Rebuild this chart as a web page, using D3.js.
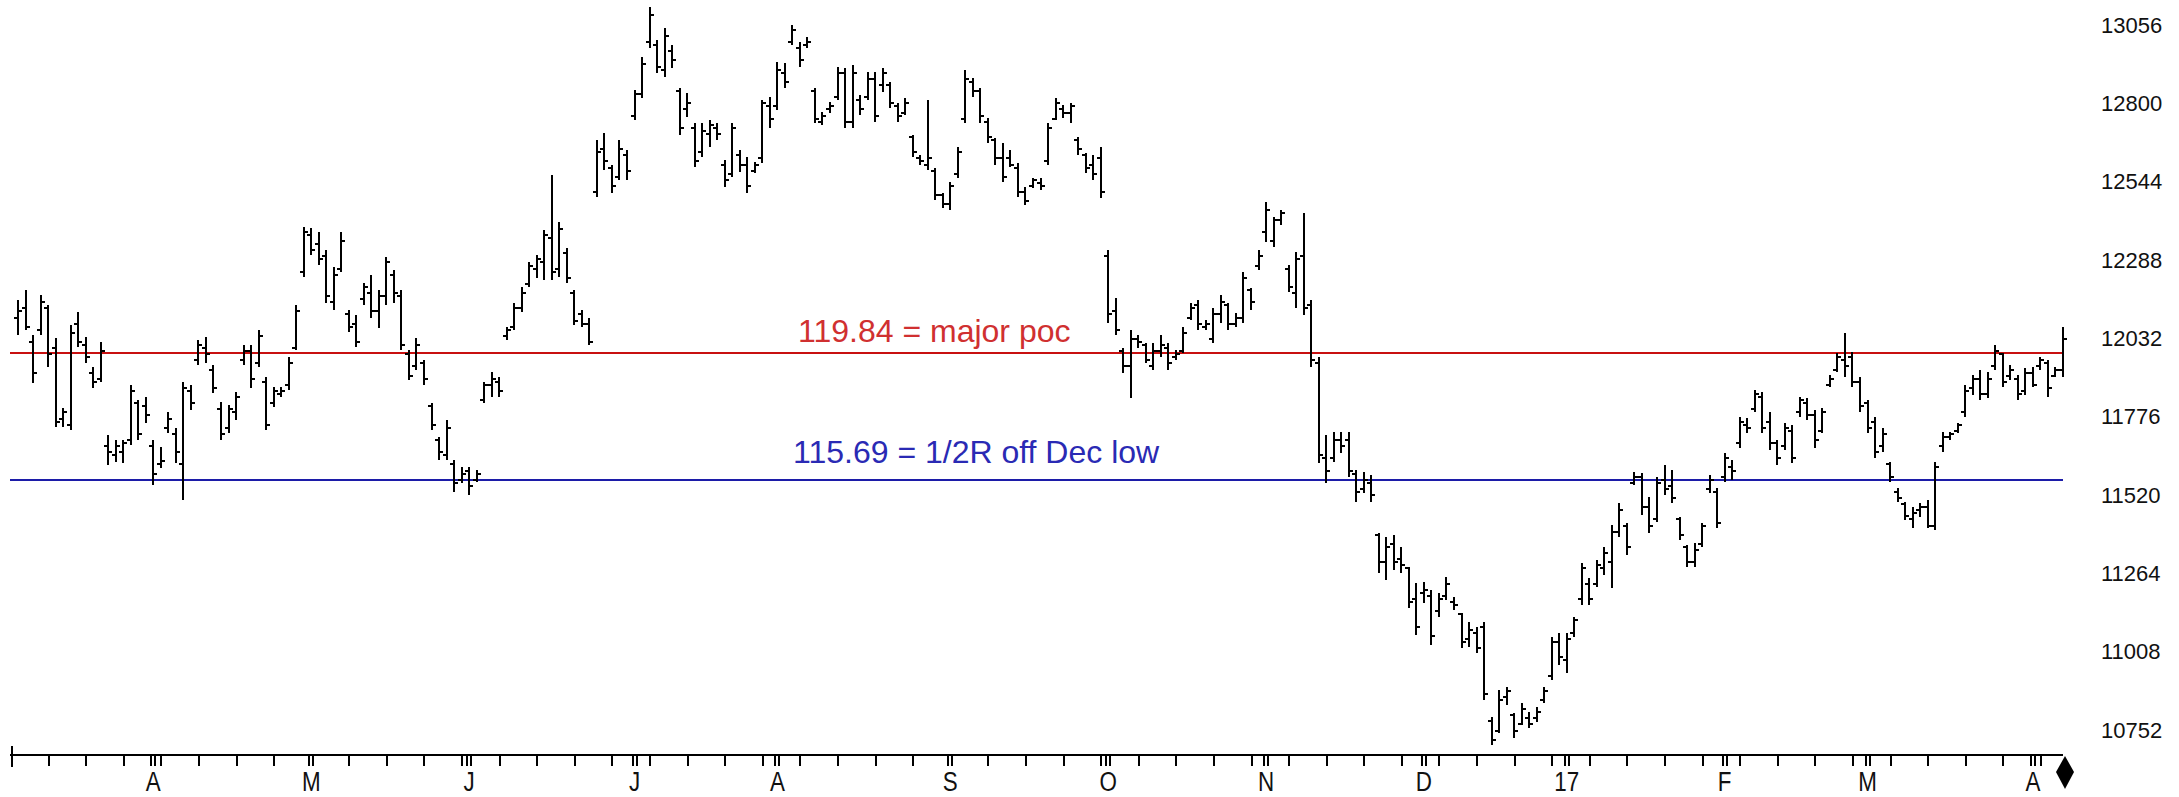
<!DOCTYPE html>
<meta charset="utf-8">
<style>
body { margin: 0; background: #fff; }
svg { display: block; font-family: "Liberation Sans", Arial, sans-serif; }
.bar { stroke: #000; stroke-width: 2px; shape-rendering: crispEdges; }
.xaxis line, .xaxis path { stroke: #000; stroke-width: 2px; shape-rendering: crispEdges; }
.yaxis path { display: none; }
.yaxis text { font-size: 22px; fill: #111; }
</style>
<body>
<script src="https://d3js.org/d3.v7.min.js"></script>
<script>
// daily bars (Mar 2016 - Apr 2017)
var opens = [
  12100,12130,12020,12060,12130,12000,11770,11750,12080,12010,
  11920,11900,11680,11650,11660,11700,11820,11810,11680,11620,
  11740,11720,11620,11860,11960,12000,11930,11800,11740,11790,
  11960,11990,11950,11890,11820,11850,11880,12000,12250,12370,
  12340,12300,12150,12260,12110,12080,12160,12180,12120,12170,
  12240,12170,11980,11940,11950,11810,11700,11650,11620,11570,
  11600,11570,11830,11880,11890,12040,12070,12130,12210,12260,
  12280,12360,12260,12310,12180,12110,12080,12510,12650,12590,
  12560,12630,12760,12830,13000,12990,12910,12970,12840,12780,
  12720,12640,12700,12720,12600,12570,12630,12600,12580,12620,
  12790,12790,12900,13000,12980,12990,12840,12740,12780,12820,
  12900,12740,12810,12820,12880,12860,12860,12790,12770,12690,
  12620,12600,12580,12500,12470,12570,12750,12870,12840,12740,
  12680,12620,12620,12590,12510,12530,12540,12610,12750,12780,
  12770,12680,12630,12600,12620,12300,12120,11990,11940,12030,
  12010,11940,11990,12000,11970,11990,12100,12140,12070,12030,
  12110,12140,12080,12100,12190,12270,12380,12350,12420,12260,
  12180,12300,12140,11950,11640,11640,11700,11700,11590,11540,
  11560,11390,11300,11360,11310,11280,11180,11200,11190,11140,
  11190,11170,11130,11050,11070,11090,10780,10750,10860,10800,
  10770,10790,10790,10850,10930,11040,10980,11070,11180,11230,
  11230,11280,11300,11400,11420,11560,11580,11480,11440,11570,
  11550,11440,11350,11300,11360,11540,11530,11580,11610,11690,
  11750,11800,11840,11760,11690,11680,11730,11790,11820,11780,
  11730,11880,11930,11960,11970,11890,11820,11760,11680,11620,
  11530,11490,11440,11470,11480,11420,11680,11710,11730,11790,
  11870,11900,11850,11940,11980,11910,11900,11860,11920,11940,
  11950,11910,11930
];
var highs = [
  12158,12190,12043,12174,12141,12033,11805,12076,12118,12037,
  11939,12020,11716,11700,11700,11880,11831,11841,11700,11677,
  11792,11739,11890,11880,12027,12037,11945,11824,11815,11857,
  12010,12010,12060,11906,11873,11873,11971,12141,12396,12393,
  12380,12321,12265,12380,12125,12109,12213,12239,12190,12298,
  12256,12190,11994,12033,11961,11821,11710,11765,11635,11612,
  11612,11602,11890,11922,11906,12069,12148,12200,12282,12305,
  12386,12566,12413,12328,12190,12125,12099,12680,12703,12599,
  12680,12648,12844,12952,13115,13007,13046,12991,12850,12834,
  12736,12736,12746,12736,12615,12736,12648,12625,12609,12811,
  12821,12935,12932,13056,13001,13017,12850,12772,12805,12919,
  12916,12926,12828,12903,12903,12916,12870,12801,12818,12697,
  12631,12811,12589,12507,12543,12658,12909,12883,12850,12752,
  12687,12671,12648,12605,12527,12556,12556,12736,12818,12795,
  12801,12690,12638,12631,12658,12321,12164,12001,12060,12043,
  12017,12017,12043,12017,11994,12069,12148,12158,12092,12131,
  12174,12148,12115,12249,12197,12321,12478,12429,12452,12272,
  12315,12442,12158,11971,11716,11726,11726,11726,11602,11595,
  11586,11396,11383,11390,11350,11285,11233,11236,11210,11200,
  11252,11187,11135,11105,11089,11105,10795,10883,10893,10808,
  10841,10811,10828,10893,11056,11069,11069,11122,11298,11249,
  11308,11350,11422,11494,11429,11595,11592,11514,11579,11618,
  11602,11448,11357,11363,11429,11586,11543,11658,11635,11775,
  11772,11863,11857,11792,11700,11756,11749,11841,11837,11798,
  11805,11912,11984,12050,11988,11906,11831,11775,11739,11628,
  11543,11497,11481,11494,11504,11628,11726,11726,11756,11880,
  11912,11929,11922,12010,11984,11945,11912,11935,11939,11971,
  11961,11939,12069
];
var lows = [
  12043,12060,11886,12043,11939,11743,11743,11733,12004,11952,
  11870,11890,11618,11628,11625,11684,11700,11756,11553,11609,
  11723,11625,11504,11798,11945,11952,11854,11700,11723,11765,
  11945,11870,11939,11733,11808,11841,11863,11994,12233,12305,
  12272,12148,12125,12249,12053,12004,12141,12099,12066,12141,
  12148,11994,11896,11929,11880,11733,11635,11635,11530,11560,
  11520,11563,11821,11841,11841,12027,12060,12118,12200,12230,
  12223,12223,12233,12213,12076,12069,12010,12494,12582,12507,
  12550,12550,12746,12818,12981,12899,12886,12916,12697,12756,
  12592,12625,12658,12680,12527,12560,12576,12507,12573,12605,
  12720,12778,12850,12991,12919,12981,12736,12730,12769,12811,
  12720,12720,12762,12811,12739,12837,12785,12739,12762,12625,
  12599,12582,12484,12458,12452,12556,12736,12821,12736,12671,
  12599,12543,12592,12494,12468,12524,12517,12599,12746,12752,
  12736,12631,12573,12550,12491,12082,12043,11919,11837,12001,
  11952,11929,11971,11929,11961,11984,12092,12060,12060,12017,
  12082,12060,12069,12082,12125,12256,12347,12331,12403,12184,
  12131,12109,11939,11625,11560,11628,11658,11579,11497,11527,
  11497,11265,11243,11275,11265,11151,11063,11167,11030,11122,
  11177,11145,11020,11024,11004,10850,10703,10743,10834,10726,
  10769,10759,10778,10841,10916,10965,10939,11056,11161,11161,
  11220,11259,11216,11383,11324,11553,11455,11396,11432,11520,
  11494,11373,11285,11285,11350,11527,11412,11563,11569,11674,
  11723,11792,11723,11667,11618,11667,11625,11775,11765,11674,
  11723,11873,11922,11906,11873,11792,11723,11641,11661,11563,
  11497,11439,11412,11448,11412,11406,11661,11700,11723,11775,
  11847,11831,11837,11929,11873,11896,11831,11847,11873,11929,
  11841,11906,11906
];
var closes = [
  12120,12070,11920,12150,11980,11760,11790,12050,12020,11970,
  11890,11990,11660,11680,11690,11860,11720,11780,11590,11630,
  11770,11660,11870,11820,12010,11980,11870,11720,11800,11840,
  11990,11900,12040,11750,11860,11860,11950,12120,12380,12320,
  12290,12170,12240,12350,12070,12020,12200,12120,12170,12280,
  12180,12010,11910,12010,11900,11750,11660,11740,11560,11590,
  11550,11590,11880,11900,11860,12060,12130,12180,12270,12290,
  12370,12250,12390,12230,12090,12080,12020,12640,12610,12530,
  12650,12580,12830,12930,13090,12920,13020,12940,12720,12800,
  12610,12710,12730,12700,12550,12720,12600,12530,12600,12800,
  12750,12910,12870,13040,12940,13000,12750,12760,12790,12900,
  12740,12900,12780,12880,12760,12900,12800,12760,12800,12640,
  12610,12620,12500,12470,12530,12640,12880,12840,12760,12690,
  12620,12560,12600,12510,12480,12550,12530,12720,12800,12770,
  12790,12650,12590,12570,12510,12110,12060,11940,12030,12020,
  11960,11990,12010,11950,11980,12050,12130,12080,12080,12110,
  12150,12080,12100,12230,12150,12300,12450,12420,12440,12200,
  12290,12130,11960,11650,11600,11700,11680,11600,11530,11570,
  11520,11300,11350,11300,11290,11170,11090,11210,11060,11180,
  11230,11160,11040,11080,11020,10870,10720,10850,10880,10750,
  10820,10770,10810,10880,11040,10990,11050,11110,11280,11180,
  11290,11330,11400,11470,11350,11580,11480,11420,11560,11540,
  11510,11390,11300,11340,11420,11570,11430,11640,11600,11760,
  11740,11850,11740,11690,11640,11740,11640,11830,11780,11700,
  11790,11900,11970,11940,11890,11810,11740,11660,11720,11580,
  11510,11450,11460,11480,11420,11610,11710,11720,11750,11860,
  11900,11850,11900,11990,11890,11930,11850,11920,11880,11960,
  11870,11930,12030
];

// x axis: bar index where each month starts, and its label
var monthStarts = [18, 39, 60, 82, 101, 124, 145, 166, 187, 206, 227, 246, 268];
var monthLabels = ["A", "M", "J", "J", "A", "S", "O", "N", "D", "17", "F", "M", "A"];

// right axis labels
var priceTicks = [13056, 12800, 12544, 12288, 12032, 11776, 11520, 11264, 11008, 10752];

// horizontal levels drawn on the chart
var levelValues = [11984, 11569];
var levelTexts = ["119.84 = major poc", "115.69 = 1/2R off Dec low"];
var levelColors = ["#c81010", "#1c1ca8"];
var levelTextColors = ["#d03030", "#2a2ab4"];

var width = 2179, height = 797;

var svg = d3.select("body").append("svg")
    .attr("width", width)
    .attr("height", height);

/* scales */
var x = d3.scaleLinear().domain([0, highs.length - 1]).range([18, 2063]);
var y = d3.scaleLinear().domain([10752, 13056]).range([730, 25]);

/* level lines + notes */
var lvX0 = 10, lvX1 = 2063;
var noteX = [798, 793], noteY = [342, 463];
levelValues.forEach(function(v, k) {
  svg.append("line")
      .attr("x1", lvX0).attr("x2", lvX1)
      .attr("y1", Math.round(y(v))).attr("y2", Math.round(y(v)))
      .style("stroke", levelColors[k])
      .style("stroke-width", 2);
  svg.append("text")
      .attr("x", noteX[k]).attr("y", noteY[k])
      .style("font-size", "32px")
      .style("fill", levelTextColors[k])
      .text(levelTexts[k]);
});

/* OHLC bars */
var idx = d3.range(highs.length);
var g = svg.append("g");
g.selectAll(".hl").data(idx).enter().append("line")
    .attr("class", "bar")
    .attr("x1", function(i) { return Math.round(x(i)); })
    .attr("x2", function(i) { return Math.round(x(i)); })
    .attr("y1", function(i) { return Math.round(y(highs[i])); })
    .attr("y2", function(i) { return Math.round(y(lows[i])); });
g.selectAll(".op").data(idx).enter().append("line")
    .attr("class", "bar")
    .attr("x1", function(i) { return Math.round(x(i)) - 4; })
    .attr("x2", function(i) { return Math.round(x(i)); })
    .attr("y1", function(i) { return Math.round(y(opens[i])); })
    .attr("y2", function(i) { return Math.round(y(opens[i])); });
g.selectAll(".cl").data(idx).enter().append("line")
    .attr("class", "bar")
    .attr("x1", function(i) { return Math.round(x(i)); })
    .attr("x2", function(i) { return Math.round(x(i)) + 4; })
    .attr("y1", function(i) { return Math.round(y(closes[i])); })
    .attr("y2", function(i) { return Math.round(y(closes[i])); });

/* right price axis */
svg.append("g")
    .attr("class", "yaxis")
    .attr("transform", "translate(2095,0)")
    .call(d3.axisRight(y).tickValues(priceTicks).tickSize(0).tickPadding(6).tickFormat(d3.format("d")));

/* bottom axis: weekly ticks */
var axisY = 755;
var weekTicks = d3.range(4, highs.length, 5).filter(function(i) {
  return !monthStarts.some(function(m) { return Math.abs(m - i) < 1; });
});
var xa = svg.append("g")
    .attr("class", "xaxis")
    .attr("transform", "translate(0," + axisY + ")")
    .call(d3.axisBottom(x).tickValues(weekTicks).tickSize(11).tickFormat(""));
xa.select(".domain").remove();
xa.append("line").attr("x1", 10).attr("x2", 2063).attr("y1", 0).attr("y2", 0);
xa.append("line").attr("x1", 12).attr("x2", 12).attr("y1", -9).attr("y2", 12);

// month ticks are doubled
monthStarts.forEach(function(m) {
  [-2, 2].forEach(function(o) {
    xa.append("line")
        .attr("x1", Math.round(x(m)) + o).attr("x2", Math.round(x(m)) + o)
        .attr("y1", 0).attr("y2", 11);
  });
});
svg.selectAll(".mlab").data(monthStarts).enter().append("text")
    .attr("transform", function(m) { return "translate(" + x(m) + ",791) scale(0.8,1)"; })
    .attr("text-anchor", "middle")
    .style("font-size", "28px")
    .style("fill", "#111")
    .text(function(m, k) { return monthLabels[k]; });

// end-of-data diamond
svg.append("path")
    .attr("d", "M2065,756L2074,772L2065,789L2056,772Z")
    .style("fill", "#000");
</script>
</body>
